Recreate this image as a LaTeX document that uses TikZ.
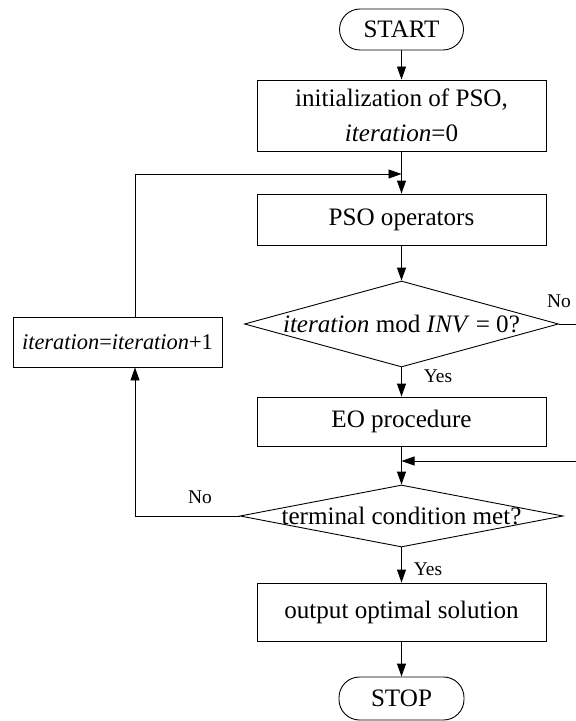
\documentclass[tikz,border=0pt]{standalone}
\usepackage{fontspec}
\setmainfont{Liberation Serif}
\usetikzlibrary{arrows.meta,shapes.geometric}
\begin{document}
\begin{tikzpicture}[x=1bp,y=-1bp,
  every node/.style={font=\fontsize{25.2}{35}\selectfont, inner sep=0pt},
  box/.style={draw, line width=0.9bp, minimum width=289bp, align=center},
  pill/.style={draw, line width=0.9bp, rounded corners=20.5bp},
  dia/.style={draw, diamond, line width=0.9bp},
  lbl/.style={font=\fontsize{19.5}{22}\selectfont},
  arr/.style={line width=0.9bp, -{Triangle[length=13bp,width=9bp]}},
  ln/.style={line width=0.9bp}
]
\useasboundingbox (0,0) rectangle (576,721);
\node[pill, minimum width=124bp, minimum height=41bp] (start) at (401.5,29.5) {START};
\node[box, minimum height=71bp] (init) at (401.5,115.5) {initialization of PSO,\\\textit{iteration}=0};
\node[box, minimum height=51bp] (pso) at (401.5,219.5) {PSO operators};
\node[dia, minimum width=314bp, minimum height=86bp,
  label={[font=\fontsize{25.2}{30}\selectfont]center:{\textit{iteration} mod \textit{INV} = 0?}}] (d1) at (401.5,324) {};
\node[box, minimum height=49bp] (eo) at (401.5,421.5) {EO procedure};
\node[dia, minimum width=323bp, minimum height=62bp,
  label={[font=\fontsize{25.2}{30}\selectfont]center:{terminal condition met?}}] (d2) at (401.5,516) {};
\node[box, minimum height=58bp] (out) at (401.5,612) {output optimal solution};
\node[pill, minimum width=125bp, minimum height=43bp] (stop) at (401.5,698.5) {STOP};
\node[draw, line width=0.9bp, minimum width=209bp, minimum height=50bp,
  font=\fontsize{22.5}{27}\selectfont] (inc) at (117.5,342) {\textit{iteration}=\textit{iteration}+1};

\coordinate (lx) at (135,0);
\coordinate (j1) at (401.5,174);
\coordinate (j2) at (401.5,461);
\coordinate (r1) at (576,324);
\coordinate (r2) at (576,461);

\draw[arr] (start) -- (init);
\draw[arr] (init) -- (pso);
\draw[arr] (pso) -- (d1);
\draw[arr] (d1) -- (eo);
\draw[arr] (eo) -- (d2);
\draw[arr] (d2) -- (out);
\draw[arr] (out) -- (stop);
\draw[ln] (d1.east) -- (r1);
\draw[arr] (r2) -- (j2);
\draw[arr] (d2.west) -| (inc.south -| lx);
\draw[arr] (inc.north -| lx) |- (j1);

\node[lbl] (no1) at (559,301) {No};
\node[lbl] (yes1) at (438,376) {Yes};
\node[lbl] (no2) at (200,497) {No};
\node[lbl] (yes2) at (428,569) {Yes};
\end{tikzpicture}
\end{document}
